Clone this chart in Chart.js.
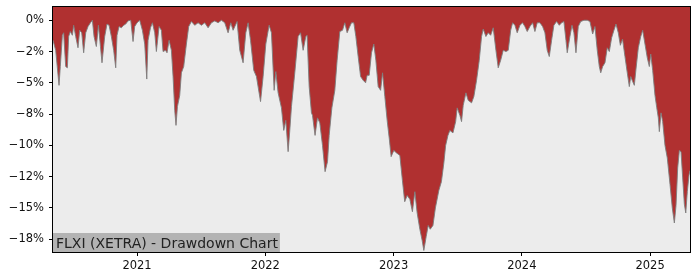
<!DOCTYPE html>
<html>
<head>
<meta charset="utf-8">
<script src="https://cdn.jsdelivr.net/npm/chart.js@4.4.1/dist/chart.umd.min.js"></script>
<style>
  html, body { margin: 0; padding: 0; background: #fff; }
  #wrap { width: 700px; height: 280px; position: relative; }
</style>
</head>
<body>
<div id="wrap"><canvas id="ddChart" width="700" height="280"></canvas></div>
<script>
// 날짜 (소수 연도) 와 드로다운 (%)
const dates = [
  2020.345, 2020.350, 2020.366, 2020.392, 2020.402, 2020.418, 2020.428, 2020.444, 2020.457, 2020.467,
  2020.480, 2020.496, 2020.506, 2020.522, 2020.540, 2020.553, 2020.569, 2020.584, 2020.600, 2020.618,
  2020.637, 2020.652, 2020.665, 2020.683, 2020.699, 2020.715, 2020.727, 2020.748, 2020.766, 2020.782,
  2020.800, 2020.818, 2020.834, 2020.844, 2020.860, 2020.878, 2020.896, 2020.912, 2020.930, 2020.951,
  2020.969, 2020.982, 2021.000, 2021.021, 2021.042, 2021.060, 2021.076, 2021.086, 2021.105, 2021.120,
  2021.138, 2021.151, 2021.172, 2021.190, 2021.203, 2021.222, 2021.234, 2021.250, 2021.268, 2021.281,
  2021.294, 2021.304, 2021.315, 2021.333, 2021.346, 2021.364, 2021.385, 2021.403, 2021.424, 2021.450,
  2021.476, 2021.502, 2021.528, 2021.554, 2021.580, 2021.606, 2021.632, 2021.658, 2021.684, 2021.710,
  2021.731, 2021.749, 2021.780, 2021.801, 2021.827, 2021.848, 2021.866, 2021.885, 2021.910, 2021.931,
  2021.963, 2021.983, 2022.004, 2022.030, 2022.048, 2022.069, 2022.082, 2022.100, 2022.126, 2022.144,
  2022.160, 2022.178, 2022.191, 2022.204, 2022.230, 2022.256, 2022.275, 2022.295, 2022.316, 2022.326,
  2022.342, 2022.360, 2022.368, 2022.388, 2022.407, 2022.425, 2022.446, 2022.466, 2022.485, 2022.498,
  2022.519, 2022.542, 2022.560, 2022.581, 2022.602, 2022.620, 2022.638, 2022.654, 2022.672, 2022.690,
  2022.706, 2022.724, 2022.743, 2022.763, 2022.782, 2022.794, 2022.810, 2022.828, 2022.846, 2022.862,
  2022.880, 2022.899, 2022.914, 2022.932, 2022.950, 2022.967, 2022.981, 2023.002, 2023.023, 2023.049,
  2023.069, 2023.087, 2023.106, 2023.127, 2023.147, 2023.166, 2023.184, 2023.205, 2023.223, 2023.236,
  2023.254, 2023.270, 2023.286, 2023.307, 2023.326, 2023.353, 2023.373, 2023.392, 2023.406, 2023.424,
  2023.439, 2023.463, 2023.484, 2023.496, 2023.517, 2023.530, 2023.543, 2023.564, 2023.582, 2023.608,
  2023.626, 2023.647, 2023.668, 2023.686, 2023.699, 2023.720, 2023.738, 2023.757, 2023.777, 2023.798,
  2023.816, 2023.835, 2023.855, 2023.876, 2023.894, 2023.913, 2023.928, 2023.946, 2023.964, 2023.985,
  2024.006, 2024.024, 2024.042, 2024.063, 2024.084, 2024.102, 2024.120, 2024.141, 2024.162, 2024.180,
  2024.198, 2024.214, 2024.232, 2024.250, 2024.271, 2024.292, 2024.310, 2024.328, 2024.344, 2024.354,
  2024.375, 2024.391, 2024.406, 2024.422, 2024.440, 2024.459, 2024.484, 2024.510, 2024.531, 2024.552,
  2024.570, 2024.588, 2024.604, 2024.615, 2024.630, 2024.648, 2024.666, 2024.682, 2024.700, 2024.718,
  2024.734, 2024.752, 2024.768, 2024.785, 2024.804, 2024.822, 2024.838, 2024.849, 2024.864, 2024.877,
  2024.890, 2024.908, 2024.927, 2024.942, 2024.960, 2024.978, 2024.994, 2025.005, 2025.020, 2025.038,
  2025.052, 2025.064, 2025.072, 2025.085, 2025.098, 2025.116, 2025.134, 2025.155, 2025.173, 2025.189,
  2025.202, 2025.215, 2025.228, 2025.241, 2025.254, 2025.267, 2025.278, 2025.290, 2025.303, 2025.311
];

const drawdown = [
  -1.6, -1.6, -2.4, -5.2, -3.7, -1.2, -1.0, -3.7, -3.8, -1.3,
  -0.9, -1.2, -0.4, -1.3, -2.2, -0.8, -1.0, -2.6, -1.0, -0.5,
  -0.2, 0.0, -1.3, -2.1, -0.4, -2.1, -3.4, -1.3, -0.3, -0.4,
  -1.3, -2.4, -3.8, -1.2, -0.5, -0.6, -0.4, -0.3, -0.05, 0.0,
  -1.7, -0.5, -0.2, 0.0, -0.8, -1.9, -4.7, -1.6, -0.6, -0.2,
  -1.0, -2.5, -0.5, -0.8, -2.5, -2.4, -2.6, -1.6, -2.4, -4.5,
  -7.2, -8.4, -6.9, -6.0, -4.2, -3.7, -1.9, -0.5, -0.1, -0.4,
  -0.2, -0.4, -0.2, -0.6, -0.2, -0.05, -0.2, 0.0, -0.2, -1.0,
  -0.2, -0.8, -0.1, -2.4, -3.4, -1.0, -0.2, -1.6, -4.0, -4.5,
  -6.5, -4.5, -1.9, -0.4, -1.0, -5.6, -4.1, -5.8, -7.0, -8.8,
  -8.0, -10.5, -8.8, -6.9, -4.2, -1.3, -1.0, -2.4, -1.3, -1.2,
  -5.3, -7.4, -7.6, -9.2, -7.8, -8.2, -10.0, -12.1, -11.3, -9.2,
  -7.0, -5.6, -3.2, -0.9, -0.8, -0.2, -1.0, -0.6, -0.2, -0.2,
  -1.3, -2.9, -4.5, -4.8, -5.0, -4.4, -4.4, -2.6, -1.9, -3.2,
  -5.3, -5.6, -4.2, -6.1, -8.0, -9.5, -10.9, -10.4, -10.6, -10.8,
  -12.8, -14.5, -14.0, -14.3, -15.3, -13.7, -15.4, -16.7, -17.6, -18.4,
  -17.3, -16.4, -16.7, -16.4, -15.0, -13.6, -12.9, -11.4, -10.0, -9.2,
  -8.8, -9.0, -8.1, -7.0, -7.6, -8.1, -6.8, -5.8, -6.4, -6.6,
  -6.1, -4.8, -3.2, -1.3, -0.7, -1.3, -1.0, -1.2, -0.6, -2.4,
  -3.8, -3.2, -2.4, -2.5, -2.4, -0.8, -0.2, -0.4, -1.0, -0.4,
  -0.2, -0.5, -0.9, -0.5, -0.2, -0.9, -0.2, -0.2, -0.5, -1.0,
  -2.4, -2.9, -1.6, -0.4, -0.1, -0.4, -0.2, -0.1, -1.6, -2.6,
  -1.3, -0.4, -1.0, -2.6, -0.5, -0.1, 0.0, 0.0, -0.1, -1.1,
  -0.5, -2.4, -3.7, -4.2, -3.7, -3.4, -2.2, -2.5, -1.4, -0.8,
  -0.3, -1.0, -2.0, -1.5, -2.9, -4.2, -5.3, -4.5, -4.9, -5.2,
  -3.9, -2.2, -1.3, -0.8, -1.9, -3.0, -3.7, -2.7, -4.0, -6.0,
  -7.0, -7.8, -8.9, -7.4, -8.1, -10.0, -11.0, -13.1, -15.0, -16.2,
  -14.8, -11.8, -10.4, -10.5, -12.6, -14.7, -15.4, -13.7, -12.4, -12.0
];

const yearTicks = [2021, 2022, 2023, 2024, 2025];
const yTicks = [0, -2.5, -5, -7.5, -10, -12.5, -15, -17.5];
const yTickLabels = ['0%', '−2%', '−5%', '−8%', '−10%', '−12%', '−15%', '−18%'];
const chartTitle = 'FLXI (XETRA) - Drawdown Chart';

const $ = (id) => document.getElementById(id);

// 배경, 테두리, 제목 박스 플러그인
const framePlugin = {
    id: 'frame',
    beforeDatasetsDraw(chart) {
        const { ctx, chartArea: a } = chart;
        ctx.save();
        ctx.fillStyle = '#ececec';
        ctx.fillRect(a.left, a.top, a.right - a.left, a.bottom - a.top);
        ctx.restore();
    },
    afterDraw(chart) {
        const { ctx, chartArea: a } = chart;
        ctx.save();
        ctx.font = '14px "DejaVu Sans"';
        const w = ctx.measureText(chartTitle).width;
        ctx.fillStyle = '#b3b3b3';
        ctx.fillRect(a.left, a.bottom - 19, w + 5, 19);
        ctx.fillStyle = '#222';
        ctx.textBaseline = 'alphabetic';
        ctx.fillText(chartTitle, a.left + 3, a.bottom - 4.5);
        ctx.strokeStyle = '#000';
        ctx.lineWidth = 1;
        ctx.strokeRect(Math.round(a.left) - 0.5, Math.round(a.top) - 0.5,
            Math.round(a.right - a.left) + 1, Math.round(a.bottom - a.top) + 1);
        ctx.restore();
    }
};

const tickFont = { family: 'DejaVu Sans', size: 11.5 };

new Chart($('ddChart').getContext('2d'), {
    type: 'line',
    data: {
        datasets: [{
            data: dates.map((d, i) => ({ x: d, y: drawdown[i] })),
            borderColor: 'rgba(125,125,125,0.9)',
            borderWidth: 1,
            backgroundColor: '#b03030',
            fill: 'end',
            pointRadius: 0,
            tension: 0
        }]
    },
    options: {
        responsive: false,
        animation: false,
        events: [],
        layout: { padding: { top: 7, right: 10, left: 0, bottom: 0 } },
        plugins: { legend: { display: false }, tooltip: { enabled: false } },
        scales: {
            x: {
                type: 'linear',
                min: dates[0],
                max: dates[dates.length - 1],
                afterBuildTicks: (axis) => { axis.ticks = yearTicks.map(v => ({ value: v })); },
                afterFit: (axis) => {
                    axis.height = 28;
                    axis.paddingLeft = 0;
                    axis.paddingRight = 0;
                },
                grid: { display: true, drawOnChartArea: false, drawTicks: true, tickLength: 4, color: '#000' },
                border: { display: true, color: '#000' },
                ticks: { font: tickFont, color: '#111', padding: 3, maxRotation: 0, autoSkip: false,
                    callback: (v) => String(v) }
            },
            y: {
                type: 'linear',
                min: -18.52,
                max: 1.06,
                afterBuildTicks: (axis) => { axis.ticks = yTicks.map(v => ({ value: v })); },
                afterFit: (axis) => {
                    axis.width = 53;
                    axis.paddingTop = 0;
                    axis.paddingBottom = 0;
                },
                grid: { display: true, drawOnChartArea: false, drawTicks: true, tickLength: 4, color: '#000' },
                border: { display: true, color: '#000' },
                ticks: { font: tickFont, color: '#111', padding: 5, autoSkip: false,
                    callback: (v, i) => yTickLabels[i] }
            }
        }
    },
    plugins: [framePlugin]
});
</script>
</body>
</html>
